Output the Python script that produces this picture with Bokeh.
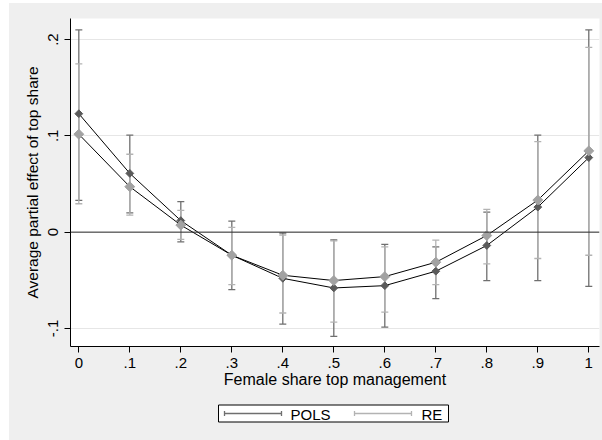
from bokeh.plotting import figure
from bokeh.models import ColumnDataSource, FixedTicker, Range1d, Span
from bokeh.layouts import column
from bokeh.embed import file_html
from bokeh.resources import INLINE
from bokeh.core.properties import value
import math

# ---- data ----
share = [0, 0.1, 0.2, 0.3, 0.4, 0.5, 0.6, 0.7, 0.8, 0.9, 1.0]
x_tick_labels = ["0", ".1", ".2", ".3", ".4", ".5", ".6", ".7", ".8", ".9", "1"]
y_ticks = [-0.1, 0.0, 0.1, 0.2]
y_tick_labels = ["-.1", "0", ".1", ".2"]
series_names = ["POLS", "RE"]

pols = [0.123, 0.061, 0.012, -0.024, -0.048, -0.058, -0.0556, -0.0406, -0.0139, 0.026, 0.0774]
pols_lo = [0.033, 0.0201, -0.0101, -0.0597, -0.0955, -0.1083, -0.0986, -0.069, -0.0503, -0.0503, -0.0563]
pols_hi = [0.210, 0.1007, 0.0316, 0.0115, -0.001, -0.008, -0.0128, -0.0153, 0.0208, 0.1007, 0.210]

re = [0.1017, 0.0472, 0.0073, -0.024, -0.0448, -0.0503, -0.0462, -0.0313, -0.0035, 0.0333, 0.0844]
re_lo = [0.0295, 0.0177, -0.0076, -0.0545, -0.084, -0.0934, -0.083, -0.0545, -0.033, -0.0274, -0.024]
re_hi = [0.1747, 0.0809, 0.0226, 0.005, -0.003, -0.009, -0.0153, -0.0083, 0.0236, 0.094, 0.192]

FONT = "Liberation Sans"
BG = "#efefef"
C_POLS_M = "#5a5a5a"
C_RE_M = "#a2a2a2"
C_POLS_CI = "#6f6f6f"
C_RE_CI = "#b3b3b3"

src_p = ColumnDataSource(dict(x=share, y=pols, lo=pols_lo, hi=pols_hi))
src_r = ColumnDataSource(dict(x=share, y=re, lo=re_lo, hi=re_hi))

p = figure(width=593, height=390,
           x_range=Range1d(-0.0163, 1.021), y_range=Range1d(-0.1188, 0.2219),
           output_backend="svg", toolbar_location=None,
           min_border_left=61, min_border_right=3, min_border_top=15, min_border_bottom=47)
p.border_fill_color = BG
p.background_fill_color = "white"
p.outline_line_color = None

# grid
p.xgrid.visible = False
p.ygrid.ticker = FixedTicker(ticks=y_ticks)
p.ygrid.grid_line_color = "#e6e6e6"
p.ygrid.grid_line_width = 1

p.add_layout(Span(location=0, dimension="width", line_color="#2a2a2a", line_width=1))

# confidence intervals
p.segment(x0="x", y0="lo", x1="x", y1="hi", source=src_p, line_color=C_POLS_CI, line_width=1.3)
p.scatter(x="x", y="lo", source=src_p, marker="dash", size=7, line_color=C_POLS_CI, line_width=1.3)
p.scatter(x="x", y="hi", source=src_p, marker="dash", size=7, line_color=C_POLS_CI, line_width=1.3)

p.segment(x0="x", y0="lo", x1="x", y1="hi", source=src_r, line_color=C_RE_CI, line_width=1.3)
p.scatter(x="x", y="lo", source=src_r, marker="dash", size=7, line_color=C_RE_CI, line_width=1.3)
p.scatter(x="x", y="hi", source=src_r, marker="dash", size=7, line_color=C_RE_CI, line_width=1.3)

# connected estimates
p.line(x="x", y="y", source=src_p, line_color="black", line_width=1)
p.line(x="x", y="y", source=src_r, line_color="black", line_width=1)
p.scatter(x="x", y="y", source=src_p, marker="square", angle=math.pi / 4, size=5.5,
          fill_color=C_POLS_M, line_color=C_POLS_M)
p.scatter(x="x", y="y", source=src_r, marker="square", angle=math.pi / 4, size=7,
          fill_color=C_RE_M, line_color=C_RE_M)

# axes
p.xaxis.ticker = FixedTicker(ticks=share)
p.xaxis.major_label_overrides = {v: s for v, s in zip(share, x_tick_labels)}
p.yaxis.ticker = FixedTicker(ticks=y_ticks)
p.yaxis.major_label_overrides = {v: s for v, s in zip(y_ticks, y_tick_labels)}
p.yaxis.major_label_orientation = "vertical"

for ax in (p.xaxis, p.yaxis):
    ax.axis_line_color = "black"
    ax.axis_line_width = 1
    ax.major_tick_line_color = "black"
    ax.major_tick_in = 0
    ax.major_tick_out = 6
    ax.minor_tick_line_color = None
    ax.major_label_text_font = FONT
    ax.major_label_text_font_size = "15px"
    ax.major_label_text_color = "black"
    ax.axis_label_text_font = FONT
    ax.axis_label_text_font_style = "normal"
    ax.axis_label_text_color = "black"

p.xaxis.axis_label = "Female share top management"
p.xaxis.axis_label_text_font_size = "16px"
p.xaxis.axis_label_standoff = 0
p.xaxis.major_label_standoff = 5
p.yaxis.axis_label = "Average partial effect of top share"
p.yaxis.axis_label_text_font_size = "15.5px"
p.yaxis.axis_label_standoff = 5
p.yaxis.major_label_standoff = 6

# ---- legend panel (window-pixel coordinates; frame spans x 70..599, y 393..440) ----
leg = figure(width=593, height=47, x_range=Range1d(70, 599), y_range=Range1d(440, 393),
             output_backend="svg", toolbar_location=None,
             x_axis_location=None, y_axis_location=None,
             min_border_left=61, min_border_right=3, min_border_top=0, min_border_bottom=0)
leg.border_fill_color = BG
leg.background_fill_color = BG
leg.outline_line_color = None
leg.xgrid.visible = False
leg.ygrid.visible = False

leg.quad(left=[218], right=[448], top=[404.5], bottom=[421.5],
         fill_color="white", line_color="black", line_width=1)
key_x0 = [224, 354]
key_x1 = [281, 411]
key_col = [C_POLS_CI, C_RE_CI]
label_x = [290, 421]
key_y = 413
leg.segment(x0=key_x0, y0=[key_y] * 2, x1=key_x1, y1=[key_y] * 2, line_color=key_col, line_width=1.3)
leg.segment(x0=key_x0, y0=[key_y - 2.5] * 2, x1=key_x0, y1=[key_y + 2.5] * 2, line_color=key_col, line_width=1.3)
leg.segment(x0=key_x1, y0=[key_y - 2.5] * 2, x1=key_x1, y1=[key_y + 2.5] * 2, line_color=key_col, line_width=1.3)
leg.text(x=label_x, y=[key_y + 1] * 2, text=series_names, text_font=value(FONT),
         text_font_size="15px", text_color="black", text_baseline="middle", text_align="left")

layout = column(p, leg, spacing=0, margin=(3, 0, 0, 9), styles={"background-color": BG})
open("out.html", "w").write(file_html(layout, INLINE))
